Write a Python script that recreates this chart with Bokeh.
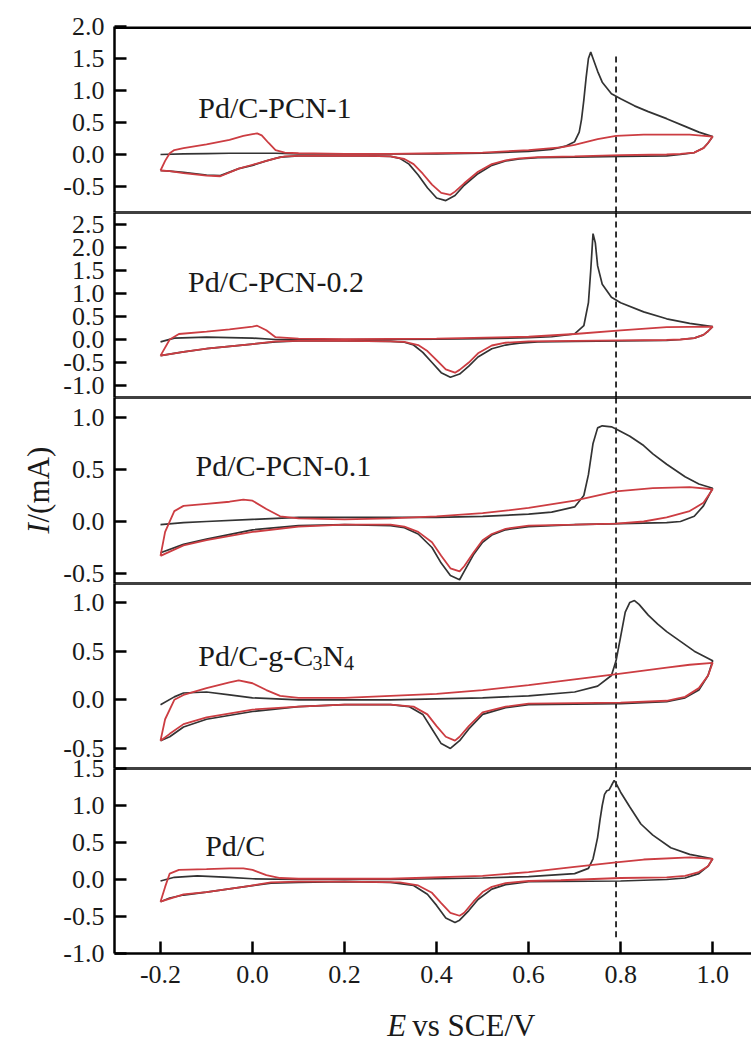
import math
from bokeh.plotting import figure
from bokeh.models import FixedTicker, PrintfTickFormatter, Span, Label, Range1d
from bokeh.layouts import column, row
from bokeh.embed import file_html
from bokeh.resources import INLINE

# ---------------- data ----------------
panel_names = ["Pd/C-PCN-1", "Pd/C-PCN-0.2", "Pd/C-PCN-0.1", "Pd/C-g-C3N4", "Pd/C"]
x_ticks = [-0.2, 0.0, 0.2, 0.4, 0.6, 0.8, 1.0]
y_ticks = [
    [-0.5, 0.0, 0.5, 1.0, 1.5, 2.0],
    [-1.0, -0.5, 0.0, 0.5, 1.0, 1.5, 2.0, 2.5],
    [-0.5, 0.0, 0.5, 1.0],
    [-0.5, 0.0, 0.5, 1.0],
    [-1.0, -0.5, 0.0, 0.5, 1.0, 1.5],
]
y_limits = [(-0.906, 2.0), (-1.26, 2.76), (-0.596, 1.192), (-0.706, 1.195), (-1.0, 1.5)]
x_limits = (-0.30, 1.0844)
dashed_E = 0.79

# Panel 1: Pd/C-PCN-1
p1_black_E = [-0.2, -0.15, -0.1, -0.05, 0.0, 0.05, 0.1, 0.2, 0.3, 0.4, 0.5, 0.6, 0.65, 0.68, 0.70, 0.71, 0.715,
              0.72, 0.725, 0.73, 0.735, 0.74, 0.75, 0.76, 0.78, 0.80, 0.83, 0.86, 0.90, 0.94, 0.97, 1.0,
              0.99, 0.98, 0.96, 0.93, 0.9, 0.8, 0.7, 0.62, 0.58, 0.55, 0.52, 0.49, 0.46, 0.44, 0.42, 0.40, 0.38,
              0.36, 0.34, 0.32, 0.30, 0.25, 0.2, 0.1, 0.06, 0.03, 0.0, -0.03, -0.07, -0.1, -0.15, -0.18, -0.2]
p1_black_I = [0.0, 0.01, 0.015, 0.02, 0.02, 0.02, 0.01, 0.01, 0.01, 0.01, 0.02, 0.05, 0.08, 0.13, 0.2, 0.35, 0.55,
              0.85, 1.2, 1.5, 1.6, 1.5, 1.3, 1.13, 0.95, 0.87, 0.76, 0.67, 0.56, 0.44, 0.35, 0.28,
              0.18, 0.1, 0.03, 0.0, -0.02, -0.03, -0.04, -0.05, -0.07, -0.1, -0.17, -0.3, -0.48, -0.64, -0.72, -0.68,
              -0.52, -0.32, -0.15, -0.06, -0.03, -0.02, -0.02, -0.02, -0.04, -0.1, -0.17, -0.22, -0.33, -0.32, -0.28,
              -0.26, -0.25]
p1_red_E = [-0.2, -0.19, -0.18, -0.17, -0.15, -0.1, -0.05, -0.02, 0.0, 0.01, 0.02, 0.035, 0.05, 0.07, 0.1, 0.2,
            0.3, 0.4, 0.5, 0.6, 0.67, 0.7, 0.75, 0.79, 0.85, 0.95, 1.0,
            0.99, 0.98, 0.96, 0.93, 0.9, 0.8, 0.7, 0.62, 0.58, 0.55, 0.52, 0.49, 0.46, 0.44, 0.43, 0.41, 0.39,
            0.37, 0.35, 0.33, 0.3, 0.25, 0.2, 0.1, 0.07, 0.05, 0.03, 0.0, -0.03, -0.07, -0.1, -0.15, -0.18, -0.2]
p1_red_I = [-0.25, -0.1, 0.02, 0.07, 0.1, 0.16, 0.23, 0.29, 0.32, 0.33, 0.3, 0.18, 0.07, 0.03, 0.02, 0.01,
            0.01, 0.02, 0.03, 0.07, 0.11, 0.15, 0.24, 0.29, 0.31, 0.31, 0.28,
            0.18, 0.1, 0.03, 0.01, 0.0, -0.01, -0.03, -0.04, -0.06, -0.09, -0.15, -0.27, -0.45, -0.58, -0.63, -0.6,
            -0.47, -0.3, -0.15, -0.07, -0.03, -0.02, -0.02, -0.02, -0.03, -0.06, -0.1, -0.16, -0.22, -0.34, -0.33,
            -0.29, -0.26, -0.25]

# Panel 2: Pd/C-PCN-0.2
p2_black_E = [-0.2, -0.17, -0.1, 0.0, 0.05, 0.1, 0.2, 0.3, 0.4, 0.5, 0.6, 0.65, 0.7, 0.72, 0.73, 0.735, 0.74,
              0.745, 0.75, 0.76, 0.78, 0.8, 0.85, 0.9, 0.95, 1.0,
              0.99, 0.98, 0.96, 0.93, 0.9, 0.8, 0.7, 0.62, 0.58, 0.55, 0.52, 0.49, 0.47, 0.45, 0.43, 0.41, 0.39,
              0.37, 0.35, 0.33, 0.3, 0.2, 0.1, 0.05, 0.0, -0.05, -0.1, -0.15, -0.2]
p2_black_I = [-0.05, 0.03, 0.05, 0.03, 0.0, 0.0, 0.0, 0.0, 0.01, 0.02, 0.04, 0.06, 0.12, 0.3, 0.8, 1.5, 2.3,
              2.1, 1.6, 1.2, 0.92, 0.8, 0.6, 0.45, 0.35, 0.28,
              0.18, 0.1, 0.03, 0.0, -0.02, -0.03, -0.04, -0.05, -0.08, -0.12, -0.2, -0.38, -0.58, -0.75, -0.82,
              -0.72, -0.5, -0.28, -0.12, -0.06, -0.04, -0.03, -0.03, -0.05, -0.1, -0.15, -0.2, -0.27, -0.35]
p2_red_E = [-0.2, -0.18, -0.16, -0.1, -0.05, 0.0, 0.01, 0.03, 0.05, 0.1, 0.2, 0.4, 0.6, 0.7, 0.8, 0.9, 1.0,
            0.99, 0.98, 0.96, 0.93, 0.9, 0.8, 0.7, 0.6, 0.55, 0.52, 0.49, 0.47, 0.45, 0.44, 0.42, 0.40,
            0.38, 0.36, 0.33, 0.3, 0.2, 0.1, 0.05, 0.0, -0.05, -0.1, -0.15, -0.2]
p2_red_I = [-0.35, 0.0, 0.12, 0.17, 0.22, 0.28, 0.3, 0.2, 0.05, 0.02, 0.01, 0.02, 0.06, 0.12, 0.2, 0.27, 0.28,
            0.18, 0.1, 0.03, 0.0, -0.01, -0.02, -0.03, -0.04, -0.07, -0.13, -0.3, -0.5, -0.66, -0.72, -0.65,
            -0.45, -0.25, -0.12, -0.05, -0.04, -0.03, -0.03, -0.04, -0.1, -0.15, -0.2, -0.27, -0.35]

# Panel 3: Pd/C-PCN-0.1
p3_black_E = [-0.2, -0.15, -0.1, 0.0, 0.1, 0.2, 0.3, 0.4, 0.5, 0.6, 0.65, 0.7, 0.72, 0.73, 0.74, 0.75, 0.76,
              0.78, 0.79, 0.82, 0.85, 0.87, 0.9, 0.94, 0.97, 1.0,
              0.98, 0.96, 0.93, 0.9, 0.8, 0.7, 0.6, 0.55, 0.52, 0.5, 0.48, 0.46, 0.45, 0.43, 0.41, 0.39, 0.36,
              0.33, 0.3, 0.2, 0.1, 0.0, -0.1, -0.15, -0.2]
p3_black_I = [-0.03, -0.01, 0.0, 0.02, 0.04, 0.04, 0.04, 0.04, 0.05, 0.07, 0.09, 0.14, 0.25, 0.45, 0.75, 0.9,
              0.92, 0.91, 0.89, 0.82, 0.73, 0.65, 0.55, 0.43, 0.36, 0.32,
              0.15, 0.05, 0.0, -0.01, -0.02, -0.03, -0.05, -0.08, -0.13, -0.2, -0.32, -0.48, -0.56, -0.52, -0.4,
              -0.25, -0.12, -0.06, -0.04, -0.03, -0.04, -0.08, -0.17, -0.22, -0.3]
p3_red_E = [-0.2, -0.19, -0.17, -0.15, -0.1, -0.05, -0.02, 0.0, 0.03, 0.06, 0.1, 0.2, 0.3, 0.4, 0.5, 0.6, 0.7,
            0.79, 0.87, 0.95, 1.0,
            0.98, 0.95, 0.9, 0.85, 0.79, 0.7, 0.6, 0.55, 0.52, 0.5, 0.48, 0.46, 0.45, 0.43, 0.41, 0.39, 0.36,
            0.33, 0.3, 0.2, 0.1, 0.0, -0.1, -0.15, -0.2]
p3_red_I = [-0.33, -0.1, 0.1, 0.15, 0.17, 0.19, 0.21, 0.2, 0.12, 0.05, 0.03, 0.02, 0.03, 0.05, 0.08, 0.13, 0.2,
            0.29, 0.32, 0.33, 0.31,
            0.18, 0.1, 0.04, 0.0, -0.02, -0.03, -0.04, -0.07, -0.12, -0.18, -0.3, -0.43, -0.48, -0.45, -0.33,
            -0.2, -0.1, -0.05, -0.03, -0.03, -0.05, -0.1, -0.18, -0.23, -0.33]

# Panel 4: Pd/C-g-C3N4
p4_black_E = [-0.2, -0.17, -0.15, -0.1, -0.05, 0.0, 0.1, 0.3, 0.5, 0.6, 0.7, 0.75, 0.78, 0.79, 0.80, 0.81, 0.82,
              0.83, 0.84, 0.86, 0.88, 0.9, 0.93, 0.96, 0.98, 1.0,
              0.99, 0.97, 0.94, 0.9, 0.8, 0.6, 0.55, 0.5, 0.47, 0.45, 0.43, 0.41, 0.39, 0.37, 0.34, 0.3, 0.2,
              0.1, 0.0, -0.1, -0.15, -0.18, -0.2]
p4_black_I = [-0.05, 0.03, 0.07, 0.08, 0.05, 0.02, 0.0, 0.0, 0.02, 0.04, 0.08, 0.14, 0.25, 0.4, 0.65, 0.9, 1.0,
              1.02, 0.98, 0.87, 0.78, 0.7, 0.6, 0.5, 0.45, 0.4,
              0.25, 0.1, 0.02, -0.02, -0.04, -0.05, -0.08, -0.15, -0.3, -0.42, -0.5, -0.45, -0.3, -0.15, -0.07,
              -0.05, -0.05, -0.07, -0.12, -0.2, -0.28, -0.38, -0.42]
p4_red_E = [-0.2, -0.19, -0.17, -0.15, -0.1, -0.05, -0.03, 0.0, 0.03, 0.06, 0.1, 0.2, 0.4, 0.5, 0.6, 0.7, 0.8,
            0.9, 0.95, 1.0,
            0.99, 0.97, 0.94, 0.9, 0.8, 0.6, 0.55, 0.5, 0.47, 0.45, 0.44, 0.42, 0.4, 0.38, 0.35, 0.3, 0.2, 0.1,
            0.0, -0.1, -0.15, -0.18, -0.2]
p4_red_I = [-0.42, -0.2, 0.0, 0.05, 0.12, 0.18, 0.2, 0.17, 0.1, 0.04, 0.02, 0.02, 0.06, 0.1, 0.15, 0.21, 0.27,
            0.33, 0.36, 0.38,
            0.25, 0.12, 0.03, -0.01, -0.03, -0.04, -0.07, -0.13, -0.27, -0.38, -0.42, -0.38, -0.27, -0.15, -0.07,
            -0.05, -0.05, -0.07, -0.1, -0.18, -0.25, -0.35, -0.42]

# Panel 5: Pd/C
p5_black_E = [-0.2, -0.17, -0.12, -0.05, 0.0, 0.1, 0.3, 0.5, 0.6, 0.7, 0.73, 0.74, 0.745, 0.75, 0.755, 0.76,
              0.765, 0.77, 0.775, 0.78, 0.786, 0.79, 0.8, 0.82, 0.844, 0.87, 0.909, 0.95, 1.0,
              0.99, 0.97, 0.94, 0.9, 0.8, 0.6, 0.55, 0.52, 0.49, 0.47, 0.45, 0.44, 0.42, 0.40, 0.38, 0.35, 0.3,
              0.2, 0.1, 0.04, -0.02, -0.1, -0.15, -0.18, -0.2]
p5_black_I = [-0.02, 0.03, 0.05, 0.03, 0.01, 0.0, 0.0, 0.02, 0.04, 0.08, 0.15, 0.28, 0.42, 0.57, 0.8, 1.0,
              1.15, 1.2, 1.21, 1.27, 1.34, 1.3, 1.18, 0.98, 0.75, 0.6, 0.43, 0.34, 0.28,
              0.18, 0.08, 0.02, 0.0, -0.02, -0.03, -0.07, -0.13, -0.27, -0.42, -0.55, -0.58, -0.52, -0.35, -0.2,
              -0.08, -0.04, -0.03, -0.04, -0.05, -0.1, -0.17, -0.21, -0.25, -0.3]
p5_red_E = [-0.2, -0.19, -0.18, -0.16, -0.1, -0.05, -0.02, 0.0, 0.03, 0.06, 0.1, 0.3, 0.5, 0.6, 0.7, 0.79, 0.85,
            0.95, 1.0,
            0.99, 0.97, 0.94, 0.9, 0.8, 0.67, 0.6, 0.55, 0.52, 0.5, 0.48, 0.46, 0.45, 0.43, 0.41, 0.39, 0.36,
            0.32, 0.2, 0.1, 0.04, -0.02, -0.1, -0.15, -0.2]
p5_red_I = [-0.3, -0.1, 0.08, 0.13, 0.14, 0.15, 0.15, 0.13, 0.06, 0.02, 0.01, 0.01, 0.05, 0.1, 0.17, 0.23, 0.27,
            0.3, 0.28,
            0.18, 0.1, 0.05, 0.03, 0.02, -0.01, -0.02, -0.05, -0.1, -0.17, -0.3, -0.45, -0.49, -0.45, -0.32,
            -0.18, -0.08, -0.04, -0.03, -0.03, -0.04, -0.1, -0.17, -0.2, -0.3]

black_series = [(p1_black_E, p1_black_I), (p2_black_E, p2_black_I), (p3_black_E, p3_black_I),
                (p4_black_E, p4_black_I), (p5_black_E, p5_black_I)]
red_series = [(p1_red_E, p1_red_I), (p2_red_E, p2_red_I), (p3_red_E, p3_red_I),
              (p4_red_E, p4_red_I), (p5_red_E, p5_red_I)]

# ---------------- style / layout ----------------
FONT = "Liberation Serif"
TXT = "#1a1a1a"
BLACK = "#333333"
RED = "#cc3d42"
YLAB_W = 60            # width of the strip holding the y-axis title
W = 751 - YLAB_W       # width of the panel column
LEFT = 110 - YLAB_W    # border left of each frame
T = 20                 # transparent overlap above each frame (panels 2-5)
B = 16                 # transparent overlap below each frame (panels 1-4)
TOP0 = 26
BOT5 = 42
frame_h = [186, 185, 186, 185, 185]
label_pos = [(-0.118, 0.734), (-0.140, 1.26), (-0.124, 0.538), (-0.118, 0.455), (-0.103, 0.459)]
dash_span = [(-0.906, 1.56), None, None, None, (-0.78, 1.5)]
LAB_SIZE = 30

x_range = Range1d(*x_limits)


def style_axis(ax, ticks, standoff):
    ax.ticker = FixedTicker(ticks=ticks)
    ax.formatter = PrintfTickFormatter(format="%.1f")
    ax.major_tick_in = 12
    ax.major_tick_out = 0
    ax.minor_tick_line_color = None
    ax.axis_line_width = 2.5
    ax.major_tick_line_width = 2.5
    ax.major_label_text_font = FONT
    ax.major_label_text_font_size = "26px"
    ax.major_label_text_color = TXT
    ax.major_label_standoff = standoff


figs = []
for i in range(5):
    top = TOP0 if i == 0 else T
    bottom = BOT5 if i == 4 else B
    p = figure(width=W, height=frame_h[i] + top + bottom, x_range=x_range,
               y_range=Range1d(*y_limits[i]), output_backend="svg", toolbar_location=None,
               min_border_left=LEFT, min_border_right=0, min_border_top=top, min_border_bottom=bottom)
    if i > 0:
        p.margin = (-(T + B), 0, 0, 0)
    p.border_fill_color = None
    p.background_fill_color = None
    p.outline_line_color = None
    p.xgrid.visible = False
    p.ygrid.visible = False

    style_axis(p.yaxis[0], y_ticks[i], 10)
    if i < 4:
        p.xaxis[0].visible = False
    else:
        style_axis(p.xaxis[0], x_ticks, 12)

    # panel borders (spans are clipped to the frame, so only half of each width shows)
    p.add_layout(Span(location=y_limits[i][1], dimension="width", line_color="black",
                      line_width=5.0 if i == 0 else 2.6))
    if i < 4:
        p.add_layout(Span(location=y_limits[i][0], dimension="width", line_color="black", line_width=2.6))

    # dashed reference line
    ys = dash_span[i] if dash_span[i] is not None else y_limits[i]
    p.line([dashed_E, dashed_E], list(ys), line_color="black", line_width=1.6, line_dash="6 4")

    bE, bI = black_series[i]
    rE, rI = red_series[i]
    p.line(bE, bI, line_color=BLACK, line_width=1.7)
    p.line(rE, rI, line_color=RED, line_width=1.8)

    lx, ly = label_pos[i]
    if i == 3:
        sub_dy = 7.0 / 97.3
        px = 1.0 / 463.0
        w_main = 3.834 * LAB_SIZE * px
        w_sub = 0.5 * 20 * px
        w_n = 0.722 * LAB_SIZE * px
        p.add_layout(Label(x=lx, y=ly, text="Pd/C-g-C", text_font=FONT, text_font_size=f"{LAB_SIZE}px",
                           text_color=TXT, text_baseline="alphabetic"))
        p.add_layout(Label(x=lx + w_main, y=ly - sub_dy, text="3", text_font=FONT, text_font_size="20px",
                           text_color=TXT, text_baseline="alphabetic"))
        p.add_layout(Label(x=lx + w_main + w_sub, y=ly, text="N", text_font=FONT,
                           text_font_size=f"{LAB_SIZE}px", text_color=TXT, text_baseline="alphabetic"))
        p.add_layout(Label(x=lx + w_main + w_sub + w_n, y=ly - sub_dy, text="4", text_font=FONT,
                           text_font_size="20px", text_color=TXT, text_baseline="alphabetic"))
    else:
        p.add_layout(Label(x=lx, y=ly, text=panel_names[i], text_font=FONT, text_font_size=f"{LAB_SIZE}px",
                           text_color=TXT, text_baseline="alphabetic"))
    figs.append(p)

# strip below the panels holding the x-axis title (pixel coordinates)
XLAB_H = 1042 - (TOP0 + sum(frame_h) + BOT5)
xfig = figure(width=W, height=XLAB_H, x_range=(0, W), y_range=(0, XLAB_H), output_backend="svg",
              toolbar_location=None, min_border=0)
xfig.axis.visible = False
xfig.grid.visible = False
xfig.outline_line_color = None
xfig.border_fill_color = None
xfig.background_fill_color = None
xfig.add_layout(Label(x=296, y=17, text="E", text_font=FONT, text_font_style="italic",
                      text_font_size="31px", text_color=TXT, text_baseline="alphabetic"))
xfig.add_layout(Label(x=323, y=17, text="vs SCE/V", text_font=FONT,
                      text_font_size="31px", text_color=TXT, text_baseline="alphabetic"))

# strip left of the panels holding the y-axis title (pixel coordinates)
yfig = figure(width=YLAB_W, height=1042, x_range=(0, YLAB_W), y_range=(0, 1042), output_backend="svg",
              toolbar_location=None, min_border=0)
yfig.axis.visible = False
yfig.grid.visible = False
yfig.outline_line_color = None
yfig.border_fill_color = None
yfig.background_fill_color = None
yfig.add_layout(Label(x=38, y=1042 - 533, text="I", angle=math.pi / 2, text_font=FONT,
                      text_font_style="italic", text_font_size="31px", text_color=TXT,
                      text_baseline="alphabetic", text_align="left"))
yfig.add_layout(Label(x=38, y=1042 - 522, text="/(mA)", angle=math.pi / 2, text_font=FONT,
                      text_font_size="31px", text_color=TXT,
                      text_baseline="alphabetic", text_align="left"))

layout = row(yfig, column(*figs, xfig, spacing=0), spacing=0)
open("out.html", "w").write(file_html(layout, INLINE))
